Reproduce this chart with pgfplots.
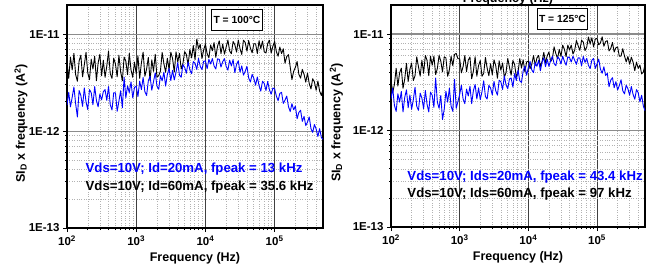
\documentclass[border=0pt]{standalone}
\usepackage{pgfplots}
\pgfplotsset{compat=1.18}
\usepackage{pgfplotstable}
\usepackage{fontspec}
\setmainfont{Liberation Sans}

\pgfplotstableread{
f K B
100 5.15e-12 1.85e-12
105.9 3.50e-12 2.51e-12
112.2 5.80e-12 1.78e-12
118.9 4.28e-12 2.24e-12
125.9 6.35e-12 2.85e-12
133.4 3.82e-12 1.91e-12
141.3 3.27e-12 1.4e-12
149.6 5.29e-12 2.62e-12
158.5 6.07e-12 2.33e-12
167.9 3.63e-12 1.80e-12
177.8 4.83e-12 2.79e-12
188.4 6.49e-12 2.00e-12
199.5 4.00e-12 1.67e-12
211.3 3.40e-12 2.68e-12
223.9 5.52e-12 2.49e-12
237.1 4.37e-12 1.87e-12
251.2 5.93e-12 2.88e-12
266.1 3.31e-12 2.07e-12
281.8 5.06e-12 1.78e-12
298.5 6.21e-12 2.42e-12
316.2 3.73e-12 2.1e-12
335.0 5.38e-12 2.55e-12
354.8 3.59e-12 2.68e-12
375.8 4.69e-12 2.07e-12
398.1 6.67e-12 2.88e-12
421.7 3.91e-12 1.87e-12
446.7 3.50e-12 1.65e-12
473.2 5.66e-12 2.49e-12
501.2 4.92e-12 2.48e-12
530.9 3.63e-12 1.60e-12
562.3 6.07e-12 2.03e-12
595.7 4.09e-12 2.61e-12
631.0 3.31e-12 1.74e-12
668.3 5.80e-12 3.6e-12
707.9 5.29e-12 2.2e-12
749.9 3.82e-12 2.93e-12
794.3 6.35e-12 2.50e-12
841.4 4.28e-12 3.22e-12
891.3 3.59e-12 2.2e-12
944.1 5.15e-12 2.81e-12
1000 3.91e-12 2.92e-12
1059 5.98e-12 2.27e-12
1122 3.50e-12 3.28e-12
1189 5.06e-12 2.68e-12
1259 6.53e-12 3.58e-12
1334 3.68e-12 2.55e-12
1413 4.37e-12 2.33e-12
1496 5.75e-12 3.30e-12
1585 3.31e-12 3.69e-12
1679 5.43e-12 2.64e-12
1778 4.14e-12 3.24e-12
1884 6.21e-12 4.0e-12
1995 3.59e-12 2.91e-12
2113 3.73e-12 2.70e-12
2239 4.16e-12 3.72e-12
2371 6.48e-12 3.30e-12
2512 4.96e-12 4.06e-12
2661 4.04e-12 2.91e-12
2818 5.65e-12 3.84e-12
2985 4.30e-12 4.44e-12
3162 6.52e-12 3.32e-12
3350 5.62e-12 4.24e-12
3548 4.05e-12 3.37e-12
3758 6.56e-12 4.04e-12
3981 5.18e-12 5.09e-12
4217 6.33e-12 3.78e-12
4467 4.37e-12 3.59e-12
4732 4.98e-12 4.86e-12
5012 6.6e-12 4.54e-12
5309 6.16e-12 3.96e-12
5623 4.81e-12 5.18e-12
5957 6.96e-12 4.28e-12
6310 5.70e-12 3.91e-12
6683 7.63e-12 5.21e-12
7079 5.46e-12 5.03e-12
7499 8.9e-12 4.32e-12
7943 7.04e-12 5.62e-12
8414 7.87e-12 4.66e-12
8913 5.61e-12 4.31e-12
9441 6.90e-12 5.25e-12
10000 7.9e-12 5.30e-12
10590 6.29e-12 4.41e-12
11220 5.71e-12 5.5e-12
11890 7.75e-12 4.92e-12
12590 6.75e-12 5.6e-12
13340 8.19e-12 4.70e-12
14130 5.77e-12 4.37e-12
14960 7.50e-12 5.56e-12
15850 8.54e-12 5.5e-12
16790 6.30e-12 4.58e-12
17780 7.92e-12 5.20e-12
18840 6.23e-12 5.6e-12
19950 7.35e-12 4.65e-12
21130 8.7e-12 4.26e-12
22390 6.70e-12 5.39e-12
23710 6.29e-12 4.70e-12
25120 8.41e-12 5.47e-12
26610 7.78e-12 4.01e-12
28180 6.54e-12 4.88e-12
29850 8.7e-12 5.31e-12
31620 7.07e-12 4.05e-12
33500 6.19e-12 4.71e-12
35480 8.67e-12 3.78e-12
37580 8.20e-12 4.14e-12
39810 6.68e-12 4.66e-12
42170 8.6e-12 3.53e-12
44670 7.18e-12 3.21e-12
47320 6.42e-12 3.85e-12
50120 7.98e-12 3.50e-12
53090 7.96e-12 2.97e-12
56230 6.32e-12 3.62e-12
59570 8.53e-12 2.95e-12
63100 7.10e-12 2.58e-12
66830 8.5e-12 3.27e-12
70790 6.57e-12 3.10e-12
74990 6.4e-12 2.62e-12
79430 8.01e-12 3.25e-12
84140 8.66e-12 2.67e-12
89130 6.37e-12 2.40e-12
94410 7.53e-12 2.78e-12
100000 8.4e-12 2.73e-12
105900 6.60e-12 2.30e-12
112200 5.93e-12 2.06e-12
118900 7.37e-12 2.45e-12
125900 6.31e-12 2.51e-12
133400 7.07e-12 1.93e-12
141300 5.02e-12 2.09e-12
149600 5.88e-12 2.30e-12
158500 6.15e-12 1.79e-12
167900 4.59e-12 1.59e-12
177800 3.4e-12 1.92e-12
188400 4.14e-12 1.66e-12
199500 4.55e-12 1.81e-12
211300 5.22e-12 1.34e-12
223900 3.86e-12 1.56e-12
237100 3.52e-12 1.64e-12
251200 4.33e-12 1.26e-12
266100 3.86e-12 1.42e-12
281800 3.20e-12 1.14e-12
298500 3.97e-12 1.24e-12
316200 3.10e-12 1.40e-12
335000 2.72e-12 1.06e-12
354800 3.47e-12 9.7e-13
375800 3.21e-12 1.17e-12
398100 2.64e-12 1.05e-12
421700 3.28e-12 8.8e-13
446700 2.59e-12 1.06e-12
473200 2.33e-12 8.6e-13
501200 2.76e-12 8.2e-13
}\leftdata

\pgfplotstableread{
f K B
100 3.33e-12 2.13e-12
105.9 2.48e-12 2.75e-12
112.2 3.01e-12 1.82e-12
118.9 4.42e-12 1.58e-12
125.9 2.89e-12 2.40e-12
133.4 3.96e-12 1.97e-12
141.3 4.43e-12 2.54e-12
149.6 2.74e-12 1.56e-12
158.5 3.42e-12 2.21e-12
167.9 4.98e-12 2.64e-12
177.8 3.22e-12 1.72e-12
188.4 4.30e-12 2.34e-12
199.5 5.01e-12 1.66e-12
211.3 3.30e-12 2.09e-12
223.9 3.71e-12 2.81e-12
237.1 5.8e-12 1.78e-12
251.2 4.58e-12 1.62e-12
266.1 3.66e-12 2.44e-12
281.8 5.36e-12 2.17e-12
298.5 3.93e-12 1.68e-12
316.2 6.0e-12 2.60e-12
335.0 5.35e-12 1.87e-12
354.8 3.70e-12 1.56e-12
375.8 5.9e-12 2.50e-12
398.1 4.75e-12 2.32e-12
421.7 5.90e-12 1.74e-12
446.7 3.80e-12 3.5e-12
473.2 4.40e-12 1.97e-12
501.2 6.0e-12 1.70e-12
530.9 5.25e-12 2.31e-12
562.3 4.05e-12 1.3e-12
595.7 5.8e-12 1.66e-12
631.0 5.65e-12 2.56e-12
668.3 3.65e-12 1.97e-12
707.9 4.25e-12 2.75e-12
749.9 5.9e-12 1.79e-12
794.3 4.70e-12 1.58e-12
841.4 6.15e-12 3.4e-12
891.3 6.3e-12 1.7e-12
944.1 5.55e-12 2.0e-12
1000 5.55e-12 2.37e-12
1059 3.96e-12 2.95e-12
1122 4.61e-12 2.12e-12
1189 6.0e-12 1.90e-12
1259 4.08e-12 2.69e-12
1334 5.37e-12 2.28e-12
1413 5.78e-12 2.88e-12
1496 3.44e-12 1.90e-12
1585 4.14e-12 2.60e-12
1679 5.82e-12 3.00e-12
1778 3.65e-12 2.12e-12
1884 4.72e-12 2.77e-12
1995 5.32e-12 2.09e-12
2113 3.65e-12 2.53e-12
2239 3.92e-12 3.28e-12
2371 5.72e-12 2.25e-12
2512 4.44e-12 2.12e-12
2661 3.70e-12 2.94e-12
2818 4.93e-12 2.76e-12
2985 3.78e-12 2.34e-12
3162 5.41e-12 3.23e-12
3350 4.71e-12 2.59e-12
3548 3.48e-12 2.33e-12
3758 5.28e-12 3.32e-12
3981 4.22e-12 3.20e-12
4217 5.02e-12 2.66e-12
4467 3.56e-12 3.68e-12
4732 4.00e-12 2.98e-12
5012 5.59e-12 2.71e-12
5309 4.53e-12 3.43e-12
5623 3.74e-12 3.50e-12
5957 5.32e-12 2.82e-12
6310 4.84e-12 3.89e-12
6683 3.60e-12 3.30e-12
7079 4.01e-12 4.24e-12
7499 5.57e-12 3.28e-12
7943 4.46e-12 3.15e-12
8414 5.41e-12 4.17e-12
8913 4.04e-12 4.66e-12
9441 5.14e-12 3.74e-12
10000 5.24e-12 4.49e-12
10590 4.37e-12 5.21e-12
11220 4.85e-12 4.25e-12
11890 5.99e-12 3.98e-12
12590 4.73e-12 5.07e-12
13340 5.65e-12 4.63e-12
14130 6.00e-12 5.35e-12
14960 4.62e-12 4.17e-12
15850 5.19e-12 5.12e-12
16790 6.45e-12 5.68e-12
17780 5.06e-12 4.60e-12
18840 5.95e-12 5.48e-12
19950 6.52e-12 4.63e-12
21130 5.18e-12 5.30e-12
22390 5.56e-12 5.9e-12
23710 7.37e-12 4.94e-12
25120 6.29e-12 4.70e-12
26610 5.56e-12 5.8e-12
28180 6.93e-12 5.56e-12
29850 5.86e-12 4.89e-12
31620 7.67e-12 5.9e-12
33500 6.96e-12 5.22e-12
35480 5.83e-12 4.75e-12
37580 7.69e-12 5.8e-12
39810 6.82e-12 5.7e-12
42170 7.68e-12 5.13e-12
44670 6.21e-12 5.9e-12
47320 6.81e-12 5.34e-12
50120 8.58e-12 4.85e-12
53090 7.58e-12 5.68e-12
56230 6.78e-12 5.64e-12
59570 8.62e-12 4.69e-12
63100 8.27e-12 5.86e-12
66830 6.73e-12 5.08e-12
70790 7.30e-12 5.6e-12
74990 9.33e-12 4.74e-12
79430 7.90e-12 4.39e-12
84140 9.16e-12 5.35e-12
89130 7.36e-12 5.59e-12
94410 8.89e-12 4.41e-12
100000 9.01e-12 4.90e-12
105900 7.74e-12 5.50e-12
112200 8.10e-12 4.32e-12
118900 9.35e-12 3.92e-12
125900 7.49e-12 4.58e-12
133400 8.37e-12 3.72e-12
141300 8.53e-12 3.92e-12
149600 6.69e-12 2.84e-12
158500 7.08e-12 3.33e-12
167900 8.18e-12 3.53e-12
177800 6.51e-12 2.78e-12
188400 7.21e-12 3.21e-12
199500 7.37e-12 2.63e-12
211300 5.88e-12 2.93e-12
223900 5.92e-12 3.36e-12
237100 7.05e-12 2.59e-12
251200 5.93e-12 2.40e-12
266100 5.15e-12 2.95e-12
281800 5.85e-12 2.71e-12
298500 4.86e-12 2.32e-12
316200 5.76e-12 2.86e-12
335000 5.12e-12 2.37e-12
354800 4.18e-12 2.11e-12
375800 5.11e-12 2.66e-12
398100 4.41e-12 2.46e-12
421700 4.77e-12 1.98e-12
446700 3.86e-12 2.32e-12
473200 4.05e-12 1.79e-12
501200 4.83e-12 1.6e-12
}\rightdata

\tikzset{
  kline/.style={black, line width=0.9pt, line join=round},
  bline/.style={blue, line width=0.9pt, line join=round},
  legtext/.style={anchor=west, font=\fontsize{13.2}{15}\selectfont\bfseries},
  tempbox/.style={draw=black, line width=1pt, fill=white, inner xsep=2pt, minimum height=21pt, font=\fontsize{10.3}{12}\selectfont\bfseries},
}

\begin{document}
\begin{tikzpicture}
\useasboundingbox (0,0) rectangle (652pt,273pt);
\begin{axis}[
    xmode=log, ymode=log, scale only axis, anchor=south west,
    at={(67pt,45pt)}, width=256pt, height=223pt,
    xmin=100, xmax=5e5, ymin=1e-13, ymax=2e-11,
    xtick={100,1000,10000,100000},
    xticklabels={10\textsuperscript{2},10\textsuperscript{3},10\textsuperscript{4},10\textsuperscript{5}},
    ytick={1e-13,1e-12,1e-11},
    yticklabels={1E-13,1E-12,1E-11},
    minor xtick={200,300,400,500,600,700,800,900,2000,3000,4000,5000,6000,7000,8000,9000,20000,30000,40000,50000,60000,70000,80000,90000,200000,300000,400000},
    minor ytick={2e-13,3e-13,4e-13,5e-13,6e-13,7e-13,8e-13,9e-13,2e-12,3e-12,4e-12,5e-12,6e-12,7e-12,8e-12,9e-12},
    grid=both,
    major x grid style={black!75, line width=0.6pt},
    major y grid style={black!45, line width=1.1pt},
    minor grid style={black!30, dotted, line width=0.6pt},
    axis line style={line width=1.2pt},
    tick align=outside, tick pos=left,
    major tick length=4pt, minor tick length=2pt,
    tick style={black, line width=0.9pt},
    ticklabel style={font=\fontsize{11.5}{13}\selectfont\bfseries},
    label style={font=\fontsize{12.5}{14}\selectfont\bfseries},
    xlabel={Frequency (Hz)},
    ylabel={SI\textsubscript{D} x frequency (A\textsuperscript{2})},
    xlabel style={at={(axis description cs:0.5,-0.135)}, anchor=center},
    ylabel style={at={(axis description cs:-0.18,0.47)}, anchor=center},
  ]
  \addplot[kline] table[x=f, y=K] {\leftdata};
  \addplot[bline] table[x=f, y=B] {\leftdata};
  \node[tempbox] at (rel axis cs:0.664,0.935) {T = 100°C};
  \node[legtext, text=blue] at (rel axis cs:0.059,0.265) {Vds=10V; Id=20mA, fpeak = 13 kHz};
  \node[legtext, text=black] at (rel axis cs:0.059,0.184) {Vds=10V; Id=60mA, fpeak = 35.6 kHz};
\end{axis}
\begin{axis}[
    xmode=log, ymode=log, scale only axis, anchor=south west,
    at={(391pt,46pt)}, width=254pt, height=222pt,
    xmin=100, xmax=5e5, ymin=1e-13, ymax=2e-11,
    xtick={100,1000,10000,100000},
    xticklabels={10\textsuperscript{2},10\textsuperscript{3},10\textsuperscript{4},10\textsuperscript{5}},
    ytick={1e-13,1e-12,1e-11},
    yticklabels={1E-13,1E-12,1E-11},
    minor xtick={200,300,400,500,600,700,800,900,2000,3000,4000,5000,6000,7000,8000,9000,20000,30000,40000,50000,60000,70000,80000,90000,200000,300000,400000},
    minor ytick={2e-13,3e-13,4e-13,5e-13,6e-13,7e-13,8e-13,9e-13,2e-12,3e-12,4e-12,5e-12,6e-12,7e-12,8e-12,9e-12},
    grid=both,
    major x grid style={black!75, line width=0.6pt},
    major y grid style={black!45, line width=1.1pt},
    minor grid style={black!30, dotted, line width=0.6pt},
    axis line style={line width=1.2pt},
    tick align=outside, tick pos=left,
    major tick length=4pt, minor tick length=2pt,
    tick style={black, line width=0.9pt},
    ticklabel style={font=\fontsize{11.5}{13}\selectfont\bfseries},
    label style={font=\fontsize{12.5}{14}\selectfont\bfseries},
    xlabel={Frequency (Hz)},
    ylabel={SI\textsubscript{D} x frequency (A\textsuperscript{2})},
    xlabel style={at={(axis description cs:0.5,-0.135)}, anchor=center},
    ylabel style={at={(axis description cs:-0.215,0.47)}, anchor=center},
  ]
  \addplot[kline] table[x=f, y=K] {\rightdata};
  \addplot[bline] table[x=f, y=B] {\rightdata};
  \node[tempbox] at (rel axis cs:0.675,0.937) {T = 125°C};
  \node[legtext, text=blue] at (rel axis cs:0.051,0.225) {Vds=10V; Ids=20mA, fpeak = 43.4 kHz};
  \node[legtext, text=black] at (rel axis cs:0.051,0.149) {Vds=10V; Ids=60mA, fpeak = 97 kHz};
\end{axis}
\node[anchor=base, font=\fontsize{12.5}{14}\selectfont\bfseries] at (508pt,270.5pt) {Frequency (Hz)};
\end{tikzpicture}
\end{document}
